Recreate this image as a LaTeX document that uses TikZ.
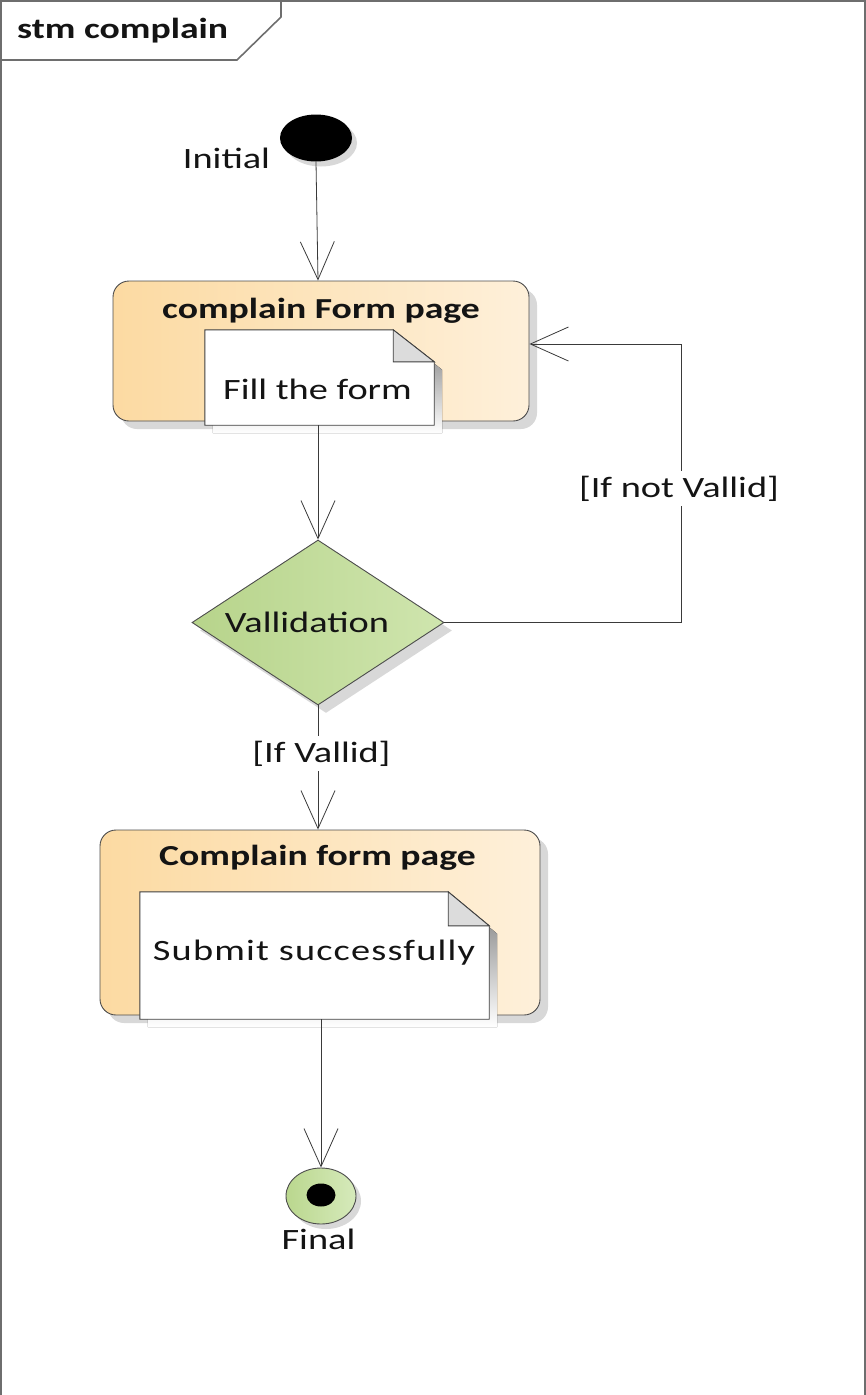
\documentclass[tikz,border=0pt]{standalone}
\usepackage{fontspec}
\setmainfont[FakeStretch=1.3]{Carlito}
\usetikzlibrary{arrows.meta,shapes.geometric,shadows,calc}

\definecolor{frameline}{HTML}{6E6E6E}
\definecolor{wire}{HTML}{3A3A3A}
\definecolor{actleft}{HTML}{FCDAA2}
\definecolor{actright}{HTML}{FEF0DA}
\definecolor{decleft}{HTML}{B7D48B}
\definecolor{decright}{HTML}{CFE5AE}
\definecolor{finleft}{HTML}{BAD78E}
\definecolor{finright}{HTML}{D6EABB}
\definecolor{shade}{HTML}{D8D8D8}
\definecolor{foldgray}{HTML}{DCDCDC}
\definecolor{ink}{HTML}{141414}

% folded-corner document sheet drawn over a placeholder node
\newcommand{\docsheet}[3]{%
  \coordinate (#1-fa) at ($(#1.north east)+(-#2,0)$);
  \coordinate (#1-fb) at ($(#1.north east)+(0,#3)$);
  \fill[shade] ($(#1.north west)+(8,8)$) -- ($(#1-fa)+(8,8)$) -- ($(#1-fb)+(8,8)$)
    -- ($(#1.south east)+(8,8)$) -- ($(#1.south west)+(8,8)$) -- cycle;
  \draw[sheetline, fill=white] (#1.north west) -- (#1-fa) -- (#1-fb)
    -- (#1.south east) -- (#1.south west) -- cycle;
  \draw[sheetline, fill=foldgray] (#1-fa) -- (#1-fa |- #1-fb) -- (#1-fb) -- cycle;
}

\begin{document}
\begin{tikzpicture}[x=1pt,y=-1pt,
  frame/.style={draw=frameline, line width=1.6pt},
  txt/.style={font=\fontsize{29.5}{35}\selectfont, text=ink, inner sep=0pt},
  boldtxt/.style={txt, font=\fontsize{29}{35}\selectfont\bfseries},
  guard/.style={txt, fill=white, inner sep=5pt},
  softshadow/.style={drop shadow={shadow xshift=8pt, shadow yshift=-8pt, fill=shade, opacity=1}},
  actbox/.style={rectangle, rounded corners=16pt, draw=black!70, line width=0.9pt,
    left color=actleft, right color=actright, softshadow},
  sheet/.style={rectangle, inner sep=0pt},
  sheetline/.style={draw=black!75, line width=0.9pt},
  decision/.style={diamond, aspect=1.5, inner sep=0pt, draw=black!70, line width=0.9pt,
    left color=decleft, right color=decright, softshadow},
  initnode/.style={ellipse, fill=black, inner sep=0pt,
    drop shadow={shadow xshift=5pt, shadow yshift=-5pt, fill=shade, opacity=1}},
  finnode/.style={ellipse, draw=black!70, line width=0.9pt, inner sep=0pt,
    left color=finleft, right color=finright,
    drop shadow={shadow xshift=5pt, shadow yshift=-5pt, fill=shade, opacity=1}},
  flow/.style={draw=wire, line width=0.8pt,
    -{Straight Barb[length=38pt, width=34pt, line width=0.8pt]}},
  plain/.style={draw=wire, line width=0.8pt}
]
\useasboundingbox (0,0) rectangle (866,1395);

% diagram frame with its name tab
\draw[frame] (1,1395) -- (1,1) -- (865,1) -- (865,1395);
\draw[frame] (1,60) -- (237,60) -- (281,17) -- (281,1);
\node[boldtxt, anchor=base west] (frametitle) at (17,38) {stm complain};

% initial pseudostate
\node[initnode, minimum width=72pt, minimum height=47pt] (init) at (316,138) {};
\node[txt, anchor=base] (initlbl) at (226.5,168) {Initial};

% first action with its document sheet
\node[actbox, minimum width=416pt, minimum height=140pt] (act1) at (321,351) {};
\node[boldtxt, anchor=base] (act1t) at (321,318) {complain Form page};
\node[sheet, minimum width=229pt, minimum height=95pt] (note1) at (319.5,377.5) {};
\docsheet{note1}{41}{32}
\node[txt, anchor=base] (note1t) at (317.5,399) {Fill the form};

% decision
\node[decision, minimum width=252pt, minimum height=165pt] (dec) at (318,622.5) {};
\node[txt, anchor=base] (dect) at (307,632) {Vallidation};

% second action with its document sheet
\node[actbox, minimum width=440pt, minimum height=185pt] (act2) at (320,922.5) {};
\node[boldtxt, anchor=base] (act2t) at (317.5,865) {Complain form page};
\node[sheet, minimum width=349pt, minimum height=127pt] (note2) at (314.5,955.5) {};
\docsheet{note2}{41}{34}
\node[txt, anchor=base, font=\fontsize{29.5}{35}\addfontfeatures{LetterSpace=4}] (note2t) at (314,960) {Submit successfully};

% final state
\node[finnode, minimum width=70pt, minimum height=56pt] (fin) at (321,1196) {};
\node[ellipse, fill=black, inner sep=0pt, minimum width=29pt, minimum height=23pt] (finc) at (321,1195) {};
\node[txt, anchor=base] (finlbl) at (318.5,1249) {Final};

% transitions
\coordinate (loop) at (681,344);
\draw[flow] (init.south) -- ([xshift=-3pt]act1.north);
\draw[flow] (note1.south -| dec.north) -- (dec.north);
\draw[flow] (dec.east) -| (loop) -- (loop -| act1.east);
\draw[flow] (dec.south) -- (dec.south |- act2.north);
\draw[flow] (fin.north |- note2.south) -- (fin.north);

% guards
\node[guard, anchor=base] (gnot) at (679,497) {[If not Vallid]};
\node[guard, anchor=base] (gok) at (321.5,762) {[If Vallid]};
\end{tikzpicture}
\end{document}
